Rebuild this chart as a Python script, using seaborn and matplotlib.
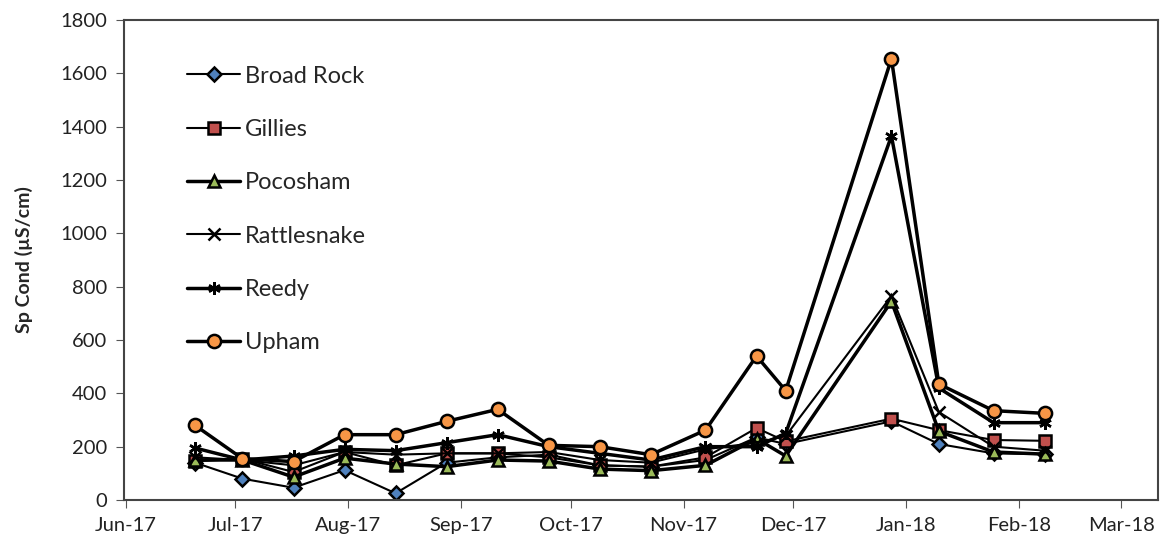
import pandas as pd
import matplotlib
matplotlib.use("Agg")
import matplotlib.pyplot as plt
import matplotlib.dates as mdates
import seaborn as sns

# Sampling dates
dates = pd.to_datetime([
    '2017-06-20', '2017-07-03', '2017-07-17', '2017-07-31', '2017-08-14',
    '2017-08-28', '2017-09-11', '2017-09-25', '2017-10-09', '2017-10-23',
    '2017-11-07', '2017-11-21', '2017-11-29', '2017-12-28', '2018-01-10',
    '2018-01-25', '2018-02-08'])

# Specific conductance per site (uS/cm)
broad_rock = [140, 80, 46, 112, 25, 140, 160, 170, 130, 125, 150, 235, 210, 295, 210, 175, 172]
gillies = [145, 155, 105, 180, 130, 175, 175, 160, 130, 125, 160, 270, 220, 305, 262, 225, 222]
pocosham = [150, 150, 86, 157, 135, 125, 150, 146, 116, 110, 130, 230, 165, 745, 258, 180, 172]
rattlesnake = [160, 150, 130, 180, 170, 175, 175, 180, 150, 140, 190, 215, 240, 765, 330, 200, 185]
reedy = [195, 150, 165, 190, 185, 215, 245, 200, 175, 150, 200, 200, 250, 1365, 420, 290, 290]
upham = [280, 155, 144, 245, 245, 295, 340, 205, 200, 170, 262, 540, 410, 1655, 435, 335, 325]

sites = ['Broad Rock', 'Gillies', 'Pocosham', 'Rattlesnake', 'Reedy', 'Upham']
values = [broad_rock, gillies, pocosham, rattlesnake, reedy, upham]

# Excel-like styling per series
styles = {
    'Broad Rock': dict(marker='D', markerfacecolor='#4F81BD', markersize=7.5, lw=1.5),
    'Gillies': dict(marker='s', markerfacecolor='#C0504D', markersize=9, lw=1.5),
    'Pocosham': dict(marker='^', markerfacecolor='#9BBB59', markersize=9, lw=2.5),
    'Rattlesnake': dict(marker='x', markerfacecolor='black', markersize=8, lw=1.5),
    'Reedy': dict(marker=(6, 2, 0), markerfacecolor='black', markersize=9, lw=2.5),
    'Upham': dict(marker='o', markerfacecolor='#F79646', markersize=9.5, lw=2.5),
}

sns.set_style("white")
plt.rcParams['font.family'] = ['Lato', 'DejaVu Sans']

fig = plt.figure(figsize=(11.64, 5.5), dpi=100)
ax = fig.add_axes([0.1065, 0.0909, 0.888, 0.8727])

for site, vals in zip(sites, values):
    st = styles[site]
    sns.lineplot(x=dates, y=vals, ax=ax, label=site, color='black',
                 marker=st['marker'], markersize=st['markersize'],
                 markerfacecolor=st['markerfacecolor'], markeredgecolor='black',
                 markeredgewidth=1.8, linewidth=st['lw'])

ax.set_ylim(0, 1800)
ax.set_yticks(range(0, 1801, 200))
ax.set_xlim(pd.Timestamp('2017-05-31 12:00'), pd.Timestamp('2018-03-11'))
ax.xaxis.set_major_locator(mdates.MonthLocator())
ax.xaxis.set_major_formatter(mdates.DateFormatter('%b-%y'))
ax.tick_params(axis='both', labelsize=14.5, direction='out', length=6,
               color='#555555', labelcolor='#222222', pad=6)
ax.tick_params(axis='both', which='both', bottom=True, left=True)

ax.set_xlabel('')
ax.set_ylabel('Sp Cond (µS/cm)', fontsize=14, fontweight='bold', labelpad=20)

for sp in ax.spines.values():
    sp.set_color('#444444')
    sp.set_linewidth(1.5)

leg = ax.legend(loc='upper left', bbox_to_anchor=(0.061, 0.905), frameon=False,
                fontsize=17, labelspacing=1.37, handlelength=2.25,
                handletextpad=0.2, borderaxespad=0, borderpad=0)

fig.savefig('out.png', dpi=100)
